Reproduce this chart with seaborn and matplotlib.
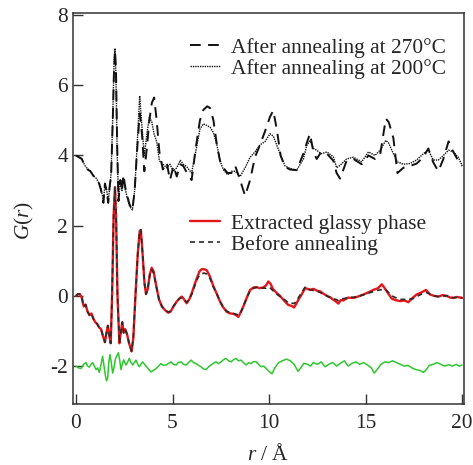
import numpy as np
import pandas as pd
import matplotlib
matplotlib.use("Agg")
import matplotlib.pyplot as plt
import seaborn as sns

# ---------------- data ----------------
# upper curves (offset by +4)
r_up = [0.0, 0.15, 0.3, 0.45, 0.6, 0.75, 0.9, 1.05, 1.2, 1.3, 1.42, 1.5, 1.58, 1.67, 1.75, 1.82,
        1.9, 1.97, 2.02, 2.07, 2.13, 2.2, 2.3, 2.38, 2.46, 2.55, 2.65, 2.78, 2.92, 3.04, 3.16,
        3.3, 3.42, 3.54, 3.67, 3.8, 3.93, 4.05, 4.18, 4.32, 4.5, 4.7, 4.87, 5.05, 5.22, 5.4,
        5.56, 5.75, 5.99, 6.2, 6.42, 6.6, 6.8, 6.95, 7.12, 7.3, 7.46, 7.63, 7.85, 8.05, 8.25,
        8.5, 8.76, 9.02, 9.27, 9.53, 9.8, 10.05, 10.22, 10.4, 10.6, 10.83, 11.09, 11.43, 11.78,
        11.95, 12.12, 12.3, 12.47, 12.7, 13.0, 13.33, 13.5, 13.68, 14.02, 14.37, 14.8, 15.15,
        15.49, 15.75, 16.05, 16.2, 16.44, 16.65, 16.96, 17.3, 17.65, 17.99, 18.25, 18.51,
        18.77, 19.03, 19.3, 19.55, 19.8, 20.0]
g_200 = [4.0, 3.95, 3.92, 3.72, 3.62, 3.55, 3.42, 3.35, 3.2, 3.05, 2.7, 3.15, 3.05, 2.7, 3.1, 3.5,
         5.0, 6.6, 7.05, 6.3, 4.2, 2.75, 3.25, 3.0, 3.35, 3.05, 2.8, 2.55, 2.45, 3.0, 4.2,
         5.7, 4.8, 4.0, 4.6, 5.1, 4.95, 4.6, 4.4, 3.85, 3.75, 3.65, 3.75, 3.55, 3.65, 3.86,
         3.75, 3.67, 3.5, 4.1, 4.75, 4.9, 4.85, 4.8, 4.65, 4.3, 3.85, 3.6, 3.45, 3.55, 3.55,
         3.4, 3.65, 3.95, 4.1, 4.3, 4.4, 4.62, 4.55, 4.3, 4.0, 3.7, 3.63, 3.58, 3.9,
         4.28, 4.42, 4.2, 4.15, 4.05, 4.1, 3.96, 3.65, 3.72, 3.9, 3.95, 3.82, 4.1,
         4.0, 4.15, 4.43, 4.35, 4.05, 3.82, 3.75, 3.77, 3.87, 4.05, 4.15, 3.87,
         3.87, 4.0, 4.15, 4.1, 3.95, 3.72]
g_270 = [4.0, 3.95, 3.9, 3.72, 3.6, 3.55, 3.42, 3.33, 3.2, 3.0, 2.65, 3.2, 3.0, 2.65, 3.15, 3.4,
         4.9, 6.4, 7.0, 6.5, 4.4, 2.7, 3.3, 3.0, 3.45, 3.1, 2.85, 2.6, 2.45, 3.0, 4.1,
         5.2, 4.6, 3.55, 4.2, 5.0, 5.5, 5.65, 5.0, 4.1, 3.6, 3.8, 3.3, 3.7, 3.4, 3.75,
         3.7, 3.5, 3.3, 4.2, 5.0, 5.3, 5.4, 5.35, 5.0, 4.3, 3.85, 3.65, 3.5, 3.5, 3.7,
         3.3, 2.85, 3.3, 3.95, 4.3, 4.7, 5.1, 5.28, 4.75, 4.0, 3.67, 3.6, 3.58, 4.05,
         4.35, 4.62, 4.1, 3.9, 4.1, 4.05, 3.85, 3.5, 3.34, 3.85, 3.9, 3.75, 4.0,
         3.9, 4.0, 5.05, 4.95, 4.5, 3.5, 3.65, 3.7, 3.77, 3.95, 4.2, 3.8,
         3.55, 3.9, 4.4, 4.1, 3.85, 3.7]

# lower curves
r_lo = [0.0, 0.1, 0.2, 0.3, 0.4, 0.5, 0.6, 0.7, 0.8, 0.9, 1.0, 1.1, 1.2, 1.3, 1.4, 1.5, 1.58,
        1.65, 1.72, 1.8, 1.87, 1.95, 2.02, 2.08, 2.15, 2.25, 2.33, 2.4, 2.47, 2.55, 2.65, 2.75,
        2.88, 2.97, 3.08, 3.2, 3.3, 3.36, 3.45, 3.55, 3.63, 3.72, 3.82, 3.92, 4.02, 4.15, 4.3,
        4.45, 4.6, 4.78, 4.9, 5.05, 5.22, 5.35, 5.48, 5.6, 5.73, 5.85, 6.0, 6.13, 6.26, 6.4,
        6.51, 6.64, 6.77, 6.94, 7.12, 7.3, 7.46, 7.62, 7.8, 7.98, 8.15, 8.3, 8.41, 8.55, 8.67,
        8.85, 9.02, 9.2, 9.36, 9.5, 9.7, 9.85, 9.96, 10.07, 10.2, 10.4, 10.57, 10.74, 10.9,
        11.0, 11.15, 11.3, 11.42, 11.52, 11.7, 11.87, 12.0, 12.12, 12.3, 12.47, 12.64, 12.85,
        13.07, 13.2, 13.33, 13.45, 13.59, 13.72, 13.85, 14.1, 14.37, 14.6, 14.89, 15.15, 15.4,
        15.65, 15.84, 15.95, 16.1, 16.36, 16.55, 16.79, 17.0, 17.22, 17.45, 17.65, 17.9, 18.13,
        18.34, 18.55, 18.77, 19.0, 19.2, 19.4, 19.55, 19.75, 20.0]
g_glassy = [0.0, 0.05, 0.05, -0.05, -0.3, -0.25, -0.45, -0.55, -0.5, -0.65, -0.75, -0.8, -0.9,
            -0.95, -1.15, -1.32, -1.05, -0.85, -1.1, -1.35, 0.0, 2.3, 3.1, 2.2, 0.0, -1.35, -1.0,
            -0.75, -1.05, -0.95, -1.1, -1.35, -1.58, -1.2, 0.0, 1.2, 1.85, 1.88, 1.2, 0.35, 0.05,
            0.2, 0.6, 0.8, 0.7, 0.3, -0.1, -0.3, -0.4, -0.48, -0.45, -0.3, -0.16, -0.08, -0.02,
            -0.1, -0.21, -0.12, 0.08, 0.3, 0.5, 0.7, 0.76, 0.76, 0.73, 0.55, 0.27, 0.05, -0.16,
            -0.32, -0.45, -0.5, -0.51, -0.55, -0.6, -0.45, -0.3, -0.05, 0.17, 0.24, 0.25, 0.22,
            0.24, 0.3, 0.41, 0.35, 0.2, 0.08, 0.0, -0.11, -0.2, -0.26, -0.28, -0.33, -0.22, -0.11,
            0.05, 0.22, 0.2, 0.17, 0.2, 0.15, 0.13, 0.05, -0.02, -0.05, -0.11, -0.15, -0.22, -0.12,
            -0.13, -0.05, -0.06, -0.02, 0.04, 0.1, 0.17, 0.22, 0.33, 0.25, 0.13, -0.08, -0.12,
            -0.15, -0.13, -0.18, -0.05, 0.04, 0.1, 0.17, 0.04, 0.0, -0.02, 0.02, 0.0, -0.05, -0.06,
            -0.03, -0.06]
g_before = [0.0, 0.05, 0.05, -0.05, -0.3, -0.25, -0.45, -0.55, -0.5, -0.65, -0.75, -0.8, -0.9,
            -0.95, -1.15, -1.32, -1.05, -0.85, -1.1, -1.35, 0.0, 2.3, 3.1, 2.2, 0.0, -1.35, -1.0,
            -0.75, -1.05, -0.95, -1.1, -1.35, -1.58, -1.2, 0.0, 1.2, 1.85, 1.88, 1.2, 0.35, 0.05,
            0.2, 0.58, 0.75, 0.65, 0.3, -0.1, -0.3, -0.4, -0.46, -0.43, -0.3, -0.16, -0.08, -0.05,
            -0.1, -0.18, -0.12, 0.05, 0.25, 0.45, 0.6, 0.63, 0.65, 0.62, 0.5, 0.25, 0.05, -0.16,
            -0.32, -0.43, -0.48, -0.5, -0.52, -0.55, -0.45, -0.3, -0.05, 0.15, 0.22, 0.24, 0.22,
            0.22, 0.22, 0.25, 0.22, 0.15, 0.05, -0.02, -0.08, -0.15, -0.2, -0.2, -0.22, -0.15, -0.05,
            0.1, 0.25, 0.22, 0.18, 0.15, 0.13, 0.1, 0.03, -0.02, -0.05, -0.08, -0.1, -0.13, -0.08,
            -0.08, -0.05, -0.04, -0.02, 0.03, 0.08, 0.12, 0.16, 0.18, 0.2, 0.15, 0.0, -0.05,
            -0.1, -0.1, -0.1, -0.08, -0.02, 0.05, 0.1, 0.05, 0.0, -0.02, 0.0, 0.0, -0.04, -0.05,
            -0.04, -0.05]

r_diff = [0.0, 0.13, 0.26, 0.4, 0.52, 0.6, 0.69, 0.78, 0.86, 0.95, 1.04, 1.12, 1.21, 1.3, 1.38,
          1.45, 1.52, 1.58, 1.64, 1.7, 1.76, 1.83, 1.9, 1.97, 2.04, 2.12, 2.2, 2.27, 2.33, 2.4,
          2.47, 2.53, 2.59, 2.68, 2.76, 2.85, 2.94, 3.02, 3.11, 3.2, 3.28, 3.36, 3.45, 3.55,
          3.66, 3.78, 3.89, 4.02, 4.15, 4.28, 4.4, 4.53, 4.66, 4.8, 4.92, 5.05, 5.18, 5.3, 5.44,
          5.57, 5.7, 5.83, 5.96, 6.09, 6.22, 6.35, 6.48, 6.6, 6.74, 6.87, 7.0, 7.12, 7.25, 7.38,
          7.51, 7.64, 7.77, 7.9, 8.03, 8.16, 8.29, 8.42, 8.55, 8.68, 8.81, 8.94, 9.07, 9.2, 9.33,
          9.46, 9.59, 9.72, 9.85, 10.0, 10.15, 10.3, 10.5, 10.7, 10.9, 11.1, 11.3, 11.5, 11.65,
          11.8, 12.0, 12.15, 12.3, 12.5, 12.7, 12.9, 13.1, 13.3, 13.5, 13.7, 13.9, 14.1, 14.3,
          14.5, 14.7, 14.9, 15.1, 15.3, 15.45, 15.6, 15.8, 16.0, 16.2, 16.4, 16.6, 16.8, 17.0,
          17.2, 17.4, 17.6, 17.8, 18.0, 18.15, 18.3, 18.5, 18.7, 18.9, 19.1, 19.3, 19.5, 19.7,
          19.85, 20.0]
g_diff = [-2.0, -2.05, -2.07, -1.95, -1.9, -2.0, -2.03, -1.95, -1.9, -2.0, -2.1, -2.05, -2.18,
          -1.95, -1.72, -2.0, -2.26, -2.42, -2.35, -1.9, -1.67, -1.9, -2.2, -2.05, -1.8, -1.7,
          -1.62, -1.85, -2.1, -1.95, -1.82, -1.9, -1.97, -1.88, -1.78, -1.9, -1.97, -1.9, -1.83,
          -1.95, -2.02, -1.95, -1.88, -1.95, -2.02, -2.1, -2.17, -2.12, -2.07, -2.0, -1.93, -1.98,
          -1.97, -1.92, -1.88, -1.95, -1.97, -1.9, -1.88, -1.95, -1.97, -1.9, -1.83, -1.9, -1.93,
          -1.98, -2.02, -2.08, -2.1, -2.02, -1.97, -1.92, -1.88, -1.93, -1.88, -1.82, -1.78, -1.85,
          -1.88, -1.82, -1.78, -1.85, -1.83, -1.9, -1.97, -1.9, -1.93, -1.87, -1.88, -1.95, -2.02,
          -2.0, -2.07, -2.15, -2.22, -2.05, -1.9, -1.85, -1.8, -1.85, -1.95, -2.15, -2.05, -1.92,
          -1.95, -2.0, -1.9, -1.95, -1.88, -2.02, -1.95, -1.9, -2.0, -1.92, -1.85, -2.0, -1.92,
          -1.88, -1.95, -1.9, -1.97, -2.05, -2.2, -2.1, -1.95, -1.88, -1.9, -1.85, -1.9, -1.95,
          -2.0, -1.98, -2.05, -2.1, -2.12, -2.18, -2.1, -1.98, -1.95, -1.9, -1.95, -2.0, -1.96,
          -2.0, -1.95, -2.0, -1.97]

x_ticks = [0, 5, 10, 15, 20]
y_ticks = [-2, 0, 2, 4, 6, 8]

label_270 = "After annealing at 270°C"
label_200 = "After annealing at 200°C"
label_glassy = "Extracted glassy phase"
label_before = "Before annealing"

# ---------------- style ----------------
FS = 15.4
sns.set_style("ticks")
plt.rcParams["font.family"] = ["Liberation Serif", "DejaVu Serif"]
plt.rcParams["mathtext.fontset"] = "custom"
plt.rcParams["mathtext.it"] = "Liberation Serif:italic"
plt.rcParams["mathtext.rm"] = "Liberation Serif"
plt.rcParams["font.size"] = FS

fig = plt.figure(figsize=(4.73, 4.65), dpi=100)
ax = fig.add_axes([0.1537, 0.1312, 0.981 - 0.1537, 0.9714 - 0.1312])

kw = dict(ax=ax, estimator=None, sort=False, legend=False)
sns.lineplot(x=r_diff, y=g_diff, color="#2ec82e", linewidth=1.1, **kw)
sns.lineplot(x=r_lo, y=g_glassy, color="#e3161b", linewidth=1.7, **kw)
sns.lineplot(x=r_lo, y=g_before, color="#2a2a2a", linewidth=1.2, **kw)
sns.lineplot(x=r_up, y=g_200, color="#111111", linewidth=1.0, **kw)
sns.lineplot(x=r_up, y=g_270, color="#111111", linewidth=1.4, **kw)

l_diff, l_glassy, l_before, l_200, l_270 = ax.lines
l_before.set_dashes((3.0, 2.4))
l_200.set_dashes((1.0, 0.7))
l_270.set_dashes((5.5, 3.8))

ax.set_xlim(-0.17, 20.1)
ax.set_ylim(-3.08, 8.05)
ax.set_xticks(x_ticks)
ax.set_yticks(y_ticks)
ax.set_xticklabels([str(v) for v in x_ticks])
ax.set_yticklabels([str(v) for v in y_ticks])
ax.tick_params(axis="both", direction="in", length=7, width=1.0, color="#333333",
               labelsize=FS, top=False, right=False)
ax.tick_params(axis="x", pad=7)
ax.tick_params(axis="y", pad=3.5)
for s in ax.spines.values():
    s.set_linewidth(1.1)
    s.set_color("#333333")

ax.set_xlabel(r"$r$ / Å", fontsize=FS, labelpad=8)
ax.set_ylabel(r"$G$($r$)", fontsize=FS)
ax.yaxis.set_label_coords(-0.095, 0.47)

leg1 = ax.legend([l_270, l_200], [label_270, label_200], loc="upper left",
                 bbox_to_anchor=(0.30, 0.937), frameon=False, borderpad=0,
                 borderaxespad=0, handlelength=1.4, handletextpad=0.5,
                 labelspacing=0.05, fontsize=FS)
ax.add_artist(leg1)
ax.legend([l_glassy, l_before], [label_glassy, label_before], loc="upper left",
          bbox_to_anchor=(0.30, 0.487), frameon=False, borderpad=0,
          borderaxespad=0, handlelength=1.4, handletextpad=0.5,
          labelspacing=0.05, fontsize=FS)

fig.savefig("out.png", dpi=100)
